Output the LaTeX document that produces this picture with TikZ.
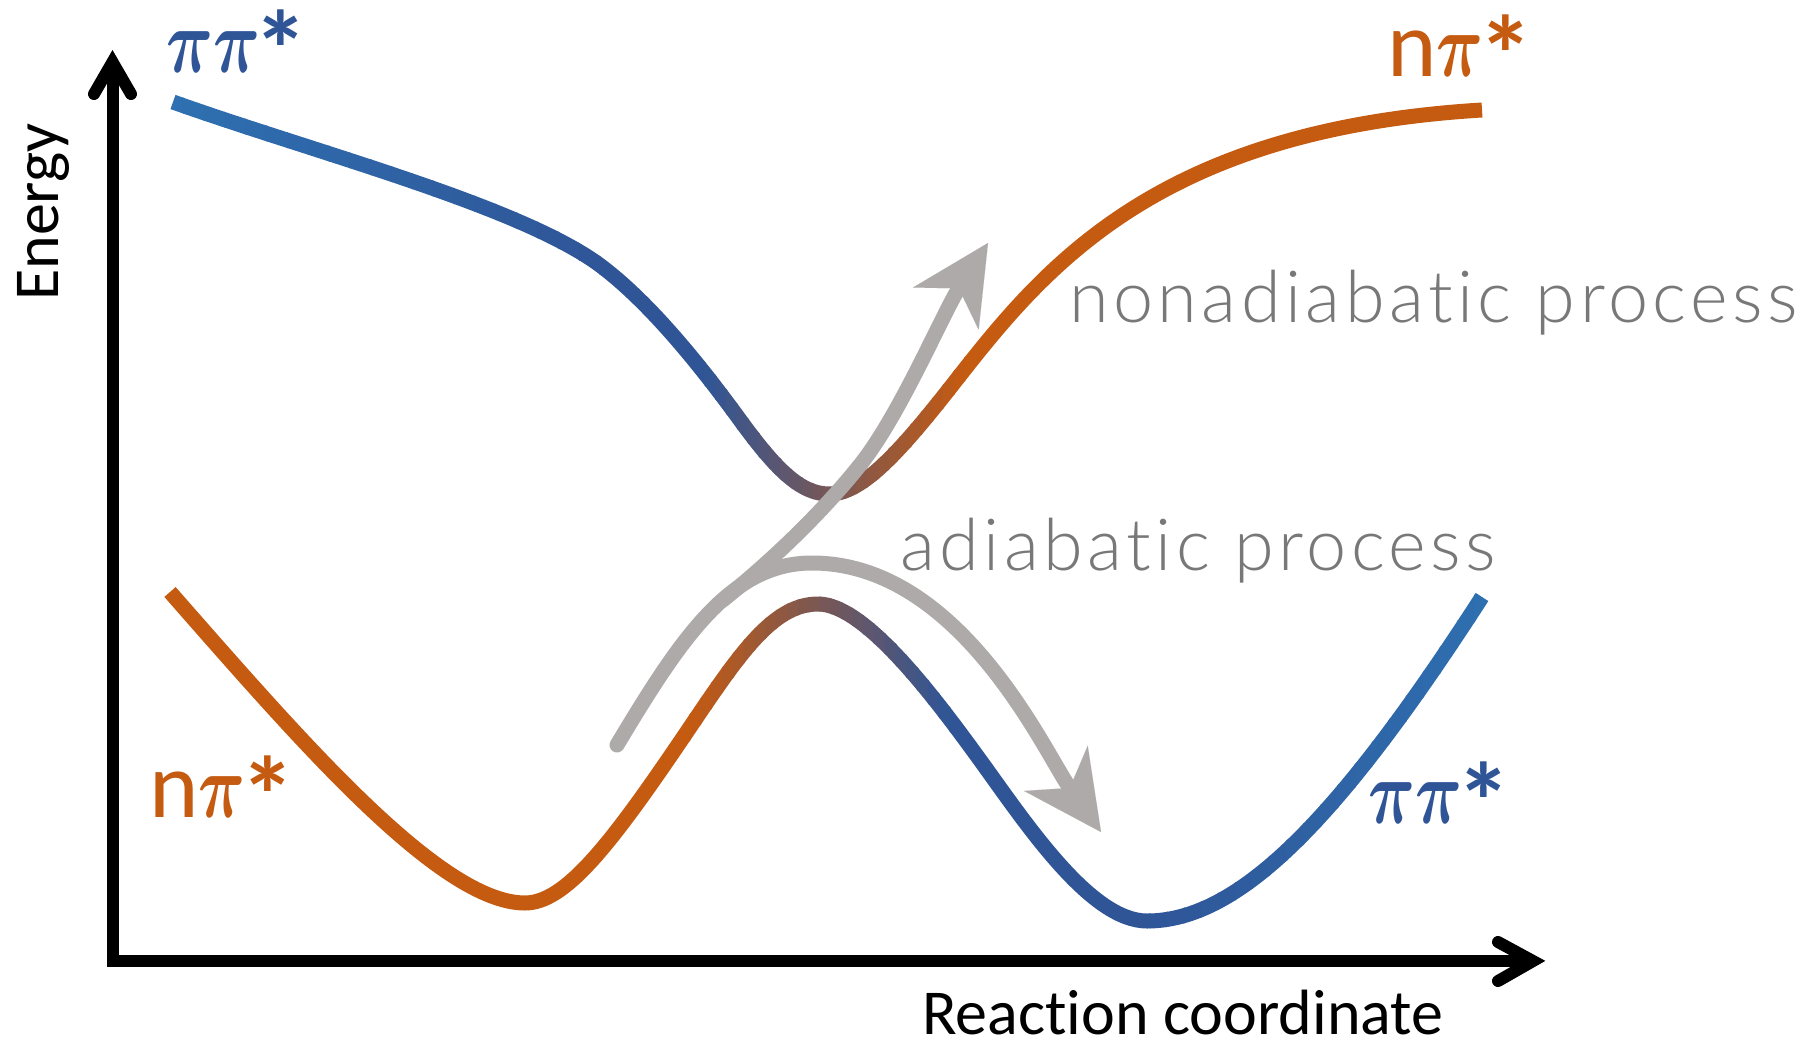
\documentclass[tikz,border=0pt]{standalone}
\usepackage{graphicx}
\usepackage{fontspec}
\newfontfamily\carl[Ligatures=NoCommon]{Carlito}
\newfontfamily\latoproc[LetterSpace=6.2,Ligatures=NoCommon]{Lato Light}
\usetikzlibrary{arrows.meta}
\definecolor{Lblue}{RGB}{46,117,182}
\definecolor{Dblue}{RGB}{47,85,151}
\definecolor{Org}{RGB}{197,90,17}
\definecolor{Arrgray}{RGB}{174,170,170}
\definecolor{Txtgray}{RGB}{120,120,120}
\tikzset{
  pes/.style={line width=15pt, line cap=butt, line join=round},
  upperpes/.style={insert path={(173,102) .. controls (313,152) and (521,206) .. (601,266)
     .. controls (650,303) and (700,365) .. (740,420)
     .. controls (775,468) and (800,494) .. (829,494)
     .. controls (860,494) and (895,458) .. (950,388)
     .. controls (1040,273) and (1150,130) .. (1482,110)}},
  lowerpes/.style={insert path={(170,592) .. controls (300,740) and (440,903) .. (525,903)
     .. controls (565,903) and (610,845) .. (680,742)
     .. controls (735,661) and (770,604) .. (818,604)
     .. controls (865,604) and (935,698) .. (980,760)
     .. controls (1025,822) and (1090,921) .. (1147,921)
     .. controls (1240,921) and (1340,817) .. (1482,597)}},
  axisline/.style={line width=12pt, line join=miter, line cap=butt},
  chevron/.style={line width=12pt, line cap=round, line join=miter},
  procarrow/.style={draw=Arrgray, line width=15pt, line cap=round, -{Stealth[length=78pt,width=78pt,inset=24pt,line width=0.01pt,fill=Arrgray]}},
  proclabel/.style={anchor=base west, inner sep=0pt, text=Txtgray, font=\latoproc\fontsize{72}{72}\selectfont},
  statelabel/.style={anchor=base west, inner sep=0pt},
  axislabel/.style={anchor=base west, inner sep=0pt, text depth=0pt, font=\carl\fontsize{64}{64}\selectfont},
}
\newcommand\gradstroke[5]{%
  \foreach \gi in {0,...,23}{%
    \pgfmathsetmacro\gxl{#2+(#3-#2)*\gi/24}%
    \pgfmathsetmacro\gxr{#2+(#3-#2)*(\gi+1)/24}%
    \pgfmathsetmacro\gpc{100-(\gi+0.5)*100/24}%
    \begin{scope}
      \clip (\gxl-0.7,-20) rectangle (\gxr+0.7,1080);
      \draw[pes,#1,draw={#4!\gpc!#5}];
    \end{scope}
  }%
}
\newcommand\solidstroke[4]{%
  \begin{scope}
    \clip (#2-0.7,-20) rectangle (#3+0.7,1080);
    \draw[pes,#1,draw=#4];
  \end{scope}
}
\newcommand\bigpi{{\fontsize{24.88}{25}\selectfont\boldmath\scalebox{2.62}[3.7]{$\pi$}}}
\newcommand\bigstar{{\fontsize{110}{110}\selectfont\carl\bfseries\raisebox{-17pt}{*}}}
\newcommand\npilabel{{\fontsize{94}{94}\selectfont\carl n}\bigpi\kern-5pt\bigstar}
\newcommand\ppilabel{\bigpi\bigpi\kern-6pt\bigstar}
\begin{document}
\begin{tikzpicture}[x=1pt,y=-1pt]
\fill[white] (0,0) rectangle (1811,1041);
\useasboundingbox (0,0) rectangle (1811,1041);
% upper potential curve
\gradstroke{upperpes}{100}{600}{Lblue}{Dblue}
\solidstroke{upperpes}{600}{705}{Dblue}
\gradstroke{upperpes}{705}{965}{Dblue}{Org}
\solidstroke{upperpes}{965}{1560}{Org}
% lower potential curve
\solidstroke{lowerpes}{100}{690}{Org}
\gradstroke{lowerpes}{690}{950}{Org}{Dblue}
\solidstroke{lowerpes}{950}{1150}{Dblue}
\gradstroke{lowerpes}{1150}{1560}{Dblue}{Lblue}
% process arrows
\coordinate (astart) at (617,745);
\coordinate (atop) at (812,563);
\coordinate (aend) at (1101,832);
\coordinate (nstart) at (723,600);
\coordinate (nmid) at (860,465);
\coordinate (nend) at (988,243);
\draw[procarrow] (astart) .. controls (680,640) and (730,563) .. (atop)
   .. controls (960,563) and (1045,753) .. (aend);
\draw[procarrow] (nstart) .. controls (770,562) and (820,515) .. (nmid)
   .. controls (900,415) and (943,313) .. (nend);
\node[proclabel] (nonad) at (1069,322) {nonadiabatic process};
\node[proclabel] (adiab) at (900,570) {adiabatic process};
% state labels
\node[statelabel, text=Dblue] (ppTL) at (166,72) {\ppilabel};
\node[statelabel, text=Org] (npTR) at (1387,77) {\npilabel};
\node[statelabel, text=Org] (npBL) at (149,817) {\npilabel};
\node[statelabel, text=Dblue] (ppBR) at (1368,823) {\ppilabel};
% axes
\coordinate (O) at (112.5,961);
\coordinate (ytip) at (112.5,62);
\coordinate (xtip) at (1533,961);
\coordinate (yarmL) at (94,94);
\coordinate (yarmR) at (131,94);
\coordinate (xarmU) at (1498,942);
\coordinate (xarmD) at (1498,981);
\draw[axisline] (ytip) -- (O) -- (xtip);
\draw[chevron] (yarmL) -- (ytip) -- (yarmR);
\draw[chevron] (xarmU) -- (xtip) -- (xarmD);
\node[axislabel, rotate=90] (energy) at (58,301) {Energy};
\node[axislabel] (rc) at (922,1034) {Reaction coordinate};
\end{tikzpicture}
\end{document}
